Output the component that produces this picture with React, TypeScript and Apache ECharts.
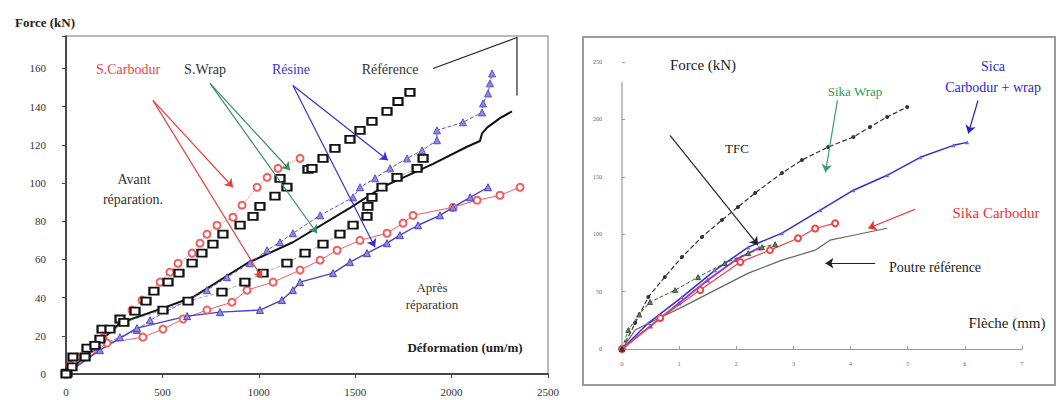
import React, { useEffect, useRef } from "react";
import * as echarts from "echarts";

// ---------- Left chart: Force (kN) vs Déformation (um/m) ----------
const leftYTicks = [0, 20, 40, 60, 80, 100, 120, 140, 160];
const leftXTicks = [0, 500, 1000, 1500, 2000, 2500];

const carbodurAvant: number[][] = [
  [0, 0], [21, 4.7], [57, 8.9], [135, 13.6], [192, 18.8], [280, 28.2], [342, 33.5],
  [394, 38.7], [488, 48.1], [539, 53.3], [581, 58], [654, 63.3], [695, 68.5],
  [731, 73.2], [783, 77.9], [866, 82.1], [913, 88.4], [991, 97.8], [1043, 103],
  [1100, 107.7], [1214, 112.9],
];
const carbodurApres: number[][] = [
  [0, 0], [213, 16.2], [399, 19.3], [503, 23.5], [607, 28.8], [731, 33.5], [861, 37.6],
  [939, 43.9], [1074, 48.1], [1214, 54.4], [1318, 59.6], [1406, 64.8], [1525, 70],
  [1665, 73.7], [1748, 79], [1800, 83.1], [2007, 87.3], [2132, 91], [2251, 93.6],
  [2355, 97.8],
];
const wrapAvant: number[][] = [
  [5, 0.5], [31, 3.7], [36, 8.9], [99, 8.9], [109, 13.6], [176, 18.3], [187, 23.5],
  [228, 23.5], [280, 28.8], [358, 32.9], [415, 38.2], [456, 43.4], [529, 48.1],
  [586, 52.8], [654, 58], [705, 63.3], [762, 68], [814, 73.2], [903, 77.9], [970, 82.6],
  [1006, 87.8], [1084, 93.1], [1110, 102.5], [1146, 97.8], [1255, 107.2], [1276, 107.7],
  [1333, 112.9], [1395, 118.2], [1473, 122.9], [1525, 127.6], [1587, 132.3],
  [1665, 137.5], [1722, 142.7], [1784, 147.5],
];
const wrapApres: number[][] = [
  [0, 0], [150, 15], [300, 27], [503, 33.5], [633, 38.2], [809, 42.9], [928, 48.1],
  [1022, 52.8], [1146, 58], [1240, 63.3], [1333, 68], [1421, 73.2], [1489, 77.9],
  [1561, 82.6], [1566, 87.8], [1587, 92.5], [1639, 97.8], [1717, 103], [1821, 107.7],
  [1852, 112.9],
];
const resineAvant: number[][] = [
  [0, 0], [161, 14.1], [280, 19.3], [368, 23], [436, 28.2], [731, 43.9], [835, 50.7],
  [954, 58], [1043, 64.8], [1110, 69], [1177, 73.7], [1318, 83.1], [1489, 92.5],
  [1525, 97.8], [1603, 102.5], [1681, 107.7], [1769, 112.9], [1847, 117.1],
  [1924, 122.4], [1924, 127.6], [2059, 131.8], [2158, 137], [2163, 141.7],
  [2189, 146.9], [2199, 152.2], [2210, 157.4],
];
const resineApres: number[][] = [
  [0, 0], [176, 12.5], [368, 24], [628, 30.3], [799, 32.4], [1006, 33.5], [1120, 38.7],
  [1177, 43.9], [1214, 48.1], [1385, 52.8], [1473, 58.6], [1561, 63.3], [1665, 68.5],
  [1732, 72.7], [1826, 77.9], [1940, 83.1], [2007, 87.3], [2096, 92.5], [2189, 97.8],
];
const reference: number[][] = [
  [0, 0], [280, 26.7], [503, 34.5], [659, 40.3], [939, 58], [1177, 69], [1473, 87],
  [1644, 98], [1904, 110], [2080, 119], [2147, 122], [2158, 126], [2184, 129],
  [2251, 134], [2313, 137.5],
];

// ---------- Right chart: Force (kN) vs Flèche (mm) ----------
const rightYTicks = [0, 50, 100, 150, 200, 250];
const rightXTicks = [0, 1, 2, 3, 4, 5, 6, 7];

const tfc: number[][] = [
  [0, 0], [0.23, 22.6], [0.46, 45.3], [0.75, 62.7], [1.05, 80.1], [1.4, 97.6],
  [1.75, 112.4], [2.03, 123.7], [2.33, 135.9], [2.8, 153.3], [3.15, 164.6],
  [3.61, 176], [4.05, 184.7], [4.34, 193.4], [4.64, 202.1], [4.99, 210.8],
];
const sikaWrap: number[][] = [
  [0, 0], [0.11, 16.5], [0.3, 30], [0.49, 40.9], [0.93, 51.3], [1.33, 62.6],
  [1.8, 74.8], [2.21, 83.5], [2.45, 88.7], [2.68, 91.3],
];
const sikaCarboWrap: number[][] = [
  [0, 0], [0.46, 22.6], [1.05, 45.2], [1.63, 68.7], [2.21, 88.7], [2.8, 100.9],
  [3.47, 120.9], [4.05, 138.3], [4.64, 151.3], [5.22, 167], [5.8, 177.4], [6.04, 180],
];
const sikaCarbodur: number[][] = [
  [0, 0], [0.67, 27], [1.37, 51.3], [2.07, 75.7], [2.59, 86.1], [3.08, 96.5],
  [3.38, 105], [3.73, 109.6],
];
const purpleSeries: number[][] = [
  [0, 0], [0.5, 20], [1, 40], [1.5, 60], [2, 78], [2.4, 88],
];
const poutreRef: number[][] = [
  [0, 0], [0.23, 16.5], [0.58, 25.2], [1.05, 36.5], [1.63, 51.3], [2.21, 66.1],
  [2.8, 77.4], [3.38, 86.1], [3.64, 94.8], [4.05, 99.1], [4.64, 105.2],
];

const SERIF = "'Liberation Serif', 'DejaVu Serif', serif";

function txt(x: number, y: number, text: string, fill: string, size: number, bold = false, align = "center") {
  return {
    type: "text",
    x,
    y,
    silent: true,
    style: {
      text,
      fill,
      fontFamily: SERIF,
      fontSize: size,
      fontWeight: bold ? "bold" : "normal",
      align,
      verticalAlign: "middle",
    },
  };
}

function arrows(xi: number, color: string, data: any[], polyline = false) {
  return {
    type: "lines",
    coordinateSystem: "cartesian2d",
    xAxisIndex: xi,
    yAxisIndex: xi,
    polyline,
    silent: true,
    symbol: ["none", "arrow"],
    symbolSize: 8,
    lineStyle: { color, width: 1.2, opacity: 1, curveness: 0 },
    data,
    z: 6,
  };
}

export default function App() {
  const ref = useRef<HTMLDivElement>(null);
  useEffect(() => {
    if (!ref.current) return;
    const chart = echarts.init(ref.current, null, { renderer: "svg" });
    const axisLabelL = { fontFamily: SERIF, fontSize: 11, color: "#333" };
    const axisLabelR = { fontFamily: SERIF, fontSize: 6, color: "#666" };
    chart.setOption({
      animation: false,
      backgroundColor: "#fff",
      textStyle: { fontFamily: SERIF },
      grid: [
        { left: 66, top: 36, width: 482, height: 338, show: true, borderColor: "#777", borderWidth: 1 },
        { left: 622, top: 62, width: 400, height: 287, show: false },
      ],
      xAxis: [
        {
          gridIndex: 0, type: "value", min: 0, max: 2500, interval: 500,
          axisLine: { lineStyle: { color: "#222", width: 1.5 } },
          axisTick: { show: true, length: 4, lineStyle: { color: "#444" } },
          axisLabel: { ...axisLabelL, margin: 12, formatter: (v: number) => (leftXTicks.includes(v) ? String(v) : "") },
          splitLine: { show: false },
        },
        {
          gridIndex: 1, type: "value", min: 0, max: 7, interval: 1,
          axisLine: { lineStyle: { color: "#999", width: 1.2 } },
          axisTick: { show: true, length: 3, inside: true, lineStyle: { color: "#999" } },
          axisLabel: { ...axisLabelR, margin: 12, formatter: (v: number) => (rightXTicks.includes(v) ? String(v) : "") },
          splitLine: { show: false },
        },
      ],
      yAxis: [
        {
          gridIndex: 0, type: "value", min: 0, max: 177, interval: 20,
          axisLine: { show: true, lineStyle: { color: "#222", width: 1.5 } },
          axisTick: { show: true, length: 4, lineStyle: { color: "#444" } },
          axisLabel: { ...axisLabelL, margin: 20, formatter: (v: number) => (leftYTicks.includes(v) ? String(v) : "") },
          splitLine: { show: false },
        },
        {
          gridIndex: 1, type: "value", min: 0, max: 250, interval: 50,
          axisLine: { show: false },
          axisTick: { show: true, length: 3, inside: true, lineStyle: { color: "#999" } },
          axisLabel: { ...axisLabelR, margin: 20, formatter: (v: number) => (rightYTicks.includes(v) ? String(v) : "") },
          splitLine: { show: false },
        },
      ],
      graphic: [
        { type: "rect", shape: { x: 583, y: 37, width: 472, height: 348 }, style: { fill: "none", stroke: "#9a9a9a", lineWidth: 2 }, silent: true },
        { type: "line", shape: { x1: 622, y1: 82, x2: 622, y2: 349 }, style: { stroke: "#999", lineWidth: 1.2 }, silent: true },
        txt(45, 22, "Force (kN)", "#222", 13, true),
        txt(128, 69, "S.Carbodur", "#ee4444", 14),
        txt(205, 69, "S.Wrap", "#333", 14),
        txt(291, 69, "Résine", "#3a3ad0", 14),
        txt(390, 69, "Référence", "#333", 14),
        txt(134, 179, "Avant", "#333", 14),
        txt(133, 199, "réparation.", "#333", 14),
        txt(432, 287, "Après", "#333", 13),
        txt(432, 304, "réparation", "#333", 13),
        txt(465, 347, "Déformation (um/m)", "#222", 13, true),
        txt(703, 65, "Force (kN)", "#222", 15),
        txt(737, 148, "TFC", "#222", 13),
        txt(855, 91, "Sika Wrap", "#2f9a55", 13),
        txt(993, 66, "Sica", "#2a2ad0", 14),
        txt(993, 87, "Carbodur + wrap", "#2a2ad0", 14),
        txt(996, 213, "Sika Carbodur", "#ee3333", 15),
        txt(935, 267, "Poutre référence", "#222", 14),
        txt(1007, 323, "Flèche (mm)", "#222", 15),
      ],
      series: [
        {
          type: "line", name: "S.Carbodur avant", xAxisIndex: 0, yAxisIndex: 0, data: carbodurAvant,
          symbol: "emptyCircle", symbolSize: 7, lineStyle: { color: "#f07070", width: 1, type: "dotted" },
          itemStyle: { color: "#f06060", borderColor: "#f06060", borderWidth: 1.2 },
        },
        {
          type: "line", name: "S.Carbodur après", xAxisIndex: 0, yAxisIndex: 0, data: carbodurApres,
          symbol: "emptyCircle", symbolSize: 7, lineStyle: { color: "#f06060", width: 1 },
          itemStyle: { color: "#f06060", borderColor: "#f06060", borderWidth: 1.2 },
        },
        {
          type: "line", name: "Référence", xAxisIndex: 0, yAxisIndex: 0, data: reference,
          symbol: "none", lineStyle: { color: "#111", width: 2 },
        },
        {
          type: "line", name: "Résine avant", xAxisIndex: 0, yAxisIndex: 0, data: resineAvant,
          symbol: "triangle", symbolSize: 7, lineStyle: { color: "#5a50c8", width: 1, type: "dashed" },
          itemStyle: { color: "#9088d8", borderColor: "#5a50c8", borderWidth: 1 },
        },
        {
          type: "line", name: "Résine après", xAxisIndex: 0, yAxisIndex: 0, data: resineApres,
          symbol: "triangle", symbolSize: 7, lineStyle: { color: "#4a40c8", width: 1.4 },
          itemStyle: { color: "#9088d8", borderColor: "#4a40c8", borderWidth: 1 },
        },
        {
          type: "line", name: "S.Wrap avant", xAxisIndex: 0, yAxisIndex: 0, data: wrapAvant,
          symbol: "rect", symbolSize: [9, 7], lineStyle: { width: 0, opacity: 0 },
          itemStyle: { color: "#fff", borderColor: "#111", borderWidth: 2 },
        },
        {
          type: "line", name: "S.Wrap après", xAxisIndex: 0, yAxisIndex: 0, data: wrapApres,
          symbol: "rect", symbolSize: [9, 7], lineStyle: { color: "#3a8a5a", width: 1, type: "dashed", opacity: 0.6 },
          itemStyle: { color: "#fff", borderColor: "#111", borderWidth: 2 },
        },
        {
          type: "line", name: "Poutre référence", xAxisIndex: 1, yAxisIndex: 1, data: poutreRef,
          symbol: "none", lineStyle: { color: "#666", width: 1.2 },
        },
        {
          type: "line", name: "Sika Carbodur + wrap", xAxisIndex: 1, yAxisIndex: 1, data: sikaCarboWrap,
          symbol: "triangle", symbolSize: 4, lineStyle: { color: "#3030d0", width: 1.5 },
          itemStyle: { color: "#6a6ae0" },
        },
        {
          type: "line", name: "Purple", xAxisIndex: 1, yAxisIndex: 1, data: purpleSeries,
          symbol: "triangle", symbolSize: 5, lineStyle: { color: "#a040c0", width: 2 },
          itemStyle: { color: "#a040c0" },
        },
        {
          type: "line", name: "Sika Carbodur", xAxisIndex: 1, yAxisIndex: 1, data: sikaCarbodur,
          symbol: "emptyCircle", symbolSize: 6, lineStyle: { color: "#ee4444", width: 1.2 },
          itemStyle: { color: "#ee4444", borderColor: "#ee4444" },
        },
        {
          type: "line", name: "Sika Wrap", xAxisIndex: 1, yAxisIndex: 1, data: sikaWrap,
          symbol: "triangle", symbolSize: 5, lineStyle: { color: "#3c5a3c", width: 1, type: "dashed" },
          itemStyle: { color: "#5a8a5a", borderColor: "#2c3a2c", borderWidth: 0.8 },
        },
        {
          type: "line", name: "TFC", xAxisIndex: 1, yAxisIndex: 1, data: tfc,
          symbol: "circle", symbolSize: 4, lineStyle: { color: "#333", width: 1.2, type: "dashed" },
          itemStyle: { color: "#333" },
        },
        arrows(0, "#e84040", [
          { coords: [[451, 143.3], [866, 97.8]] },
          { coords: [[451, 143.3], [1017, 50.2]] },
        ]),
        arrows(0, "#3a8a6a", [
          { coords: [[747, 152.2], [1162, 106.7]] },
          { coords: [[747, 152.2], [1302, 73.7]] },
        ]),
        arrows(0, "#3434c8", [
          { coords: [[1177, 151.1], [1670, 111.9]] },
          { coords: [[1177, 151.1], [1603, 66.4]] },
        ]),
        arrows(0, "#222", [{ coords: [[1904, 160], [2339, 176.2], [2339, 145.9]] }], true),
        arrows(1, "#222", [
          { coords: [[0.84, 186], [2.38, 90.4]] },
          { coords: [[4.43, 74.8], [3.56, 74.8]] },
        ]),
        arrows(1, "#3aa070", [{ coords: [[3.77, 216.5], [3.56, 153.9]] }]),
        arrows(1, "#2222c8", [{ coords: [[6.23, 216.5], [6.06, 187.8]] }]),
        arrows(1, "#e83030", [{ coords: [[5.13, 121.7], [4.31, 105.2]] }]),
      ],
    });
    return () => chart.dispose();
  }, []);
  return (
    <div
      ref={ref}
      style={{ position: "fixed", left: 0, top: 0, width: 1061, height: 400, background: "#fff" }}
    />
  );
}
